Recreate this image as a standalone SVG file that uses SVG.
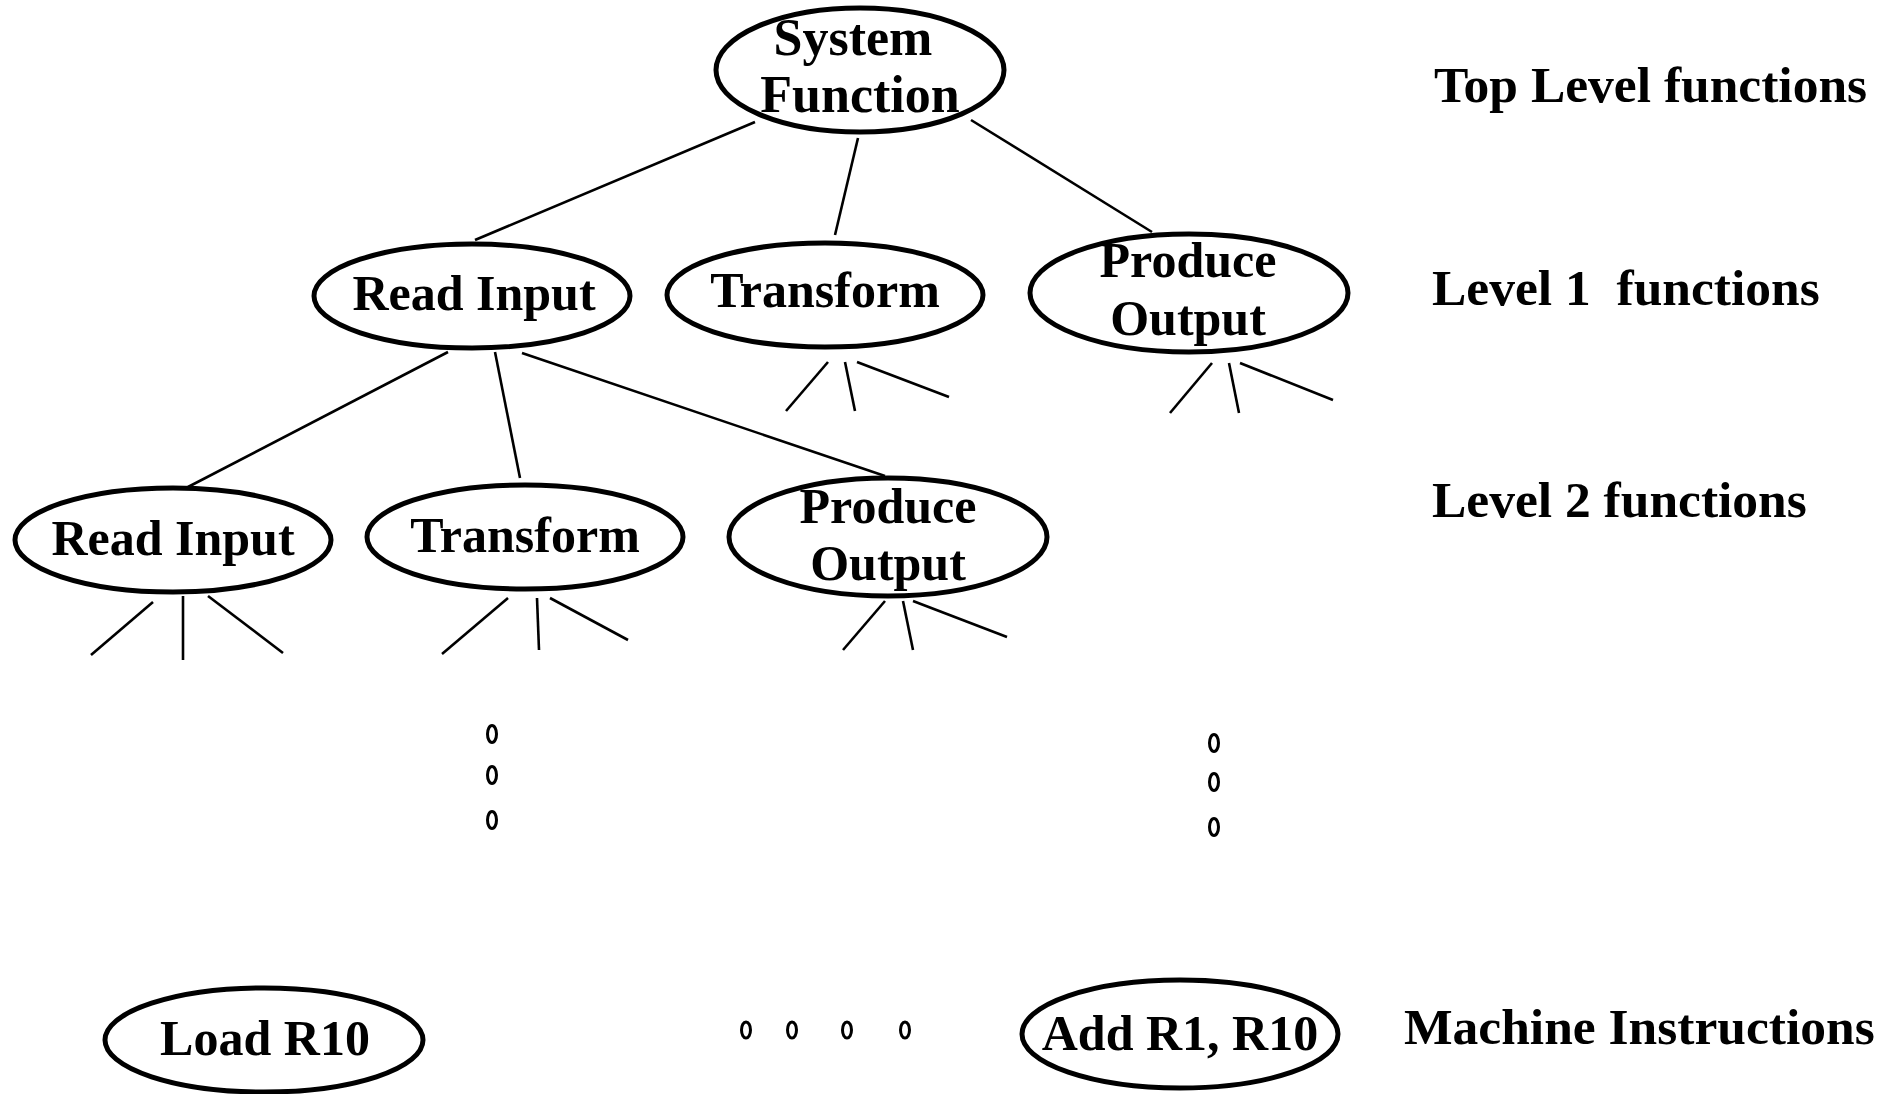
<svg xmlns="http://www.w3.org/2000/svg" width="1881" height="1094" viewBox="0 0 1881 1094">
<style>
.node{fill:#fff;stroke:#000;stroke-width:5}
.t{font-family:"Liberation Serif","Times New Roman",serif;font-weight:bold;font-size:50px;fill:#000;text-anchor:middle}
.lbl{font-family:"Liberation Serif","Times New Roman",serif;font-weight:bold;font-size:51.5px;fill:#000;white-space:pre}
.c line{stroke:#000;stroke-width:2.6;stroke-linecap:butt}
.dot{fill:none;stroke:#000;stroke-width:3}
</style>
<rect width="1881" height="1094" fill="#fff"/>
<g class="c" id="connectors">
<line x1="755" y1="122" x2="475" y2="240"/>
<line x1="858" y1="138" x2="835" y2="235"/>
<line x1="971" y1="120" x2="1152" y2="232"/>
<line x1="448" y1="352" x2="188" y2="487"/>
<line x1="495" y1="352" x2="520" y2="478"/>
<line x1="522" y1="353" x2="885" y2="476"/>
<line x1="828" y1="362" x2="786" y2="411"/>
<line x1="845" y1="362" x2="855" y2="411"/>
<line x1="857" y1="362" x2="949" y2="397"/>
<line x1="1212" y1="363" x2="1170" y2="413"/>
<line x1="1229" y1="363" x2="1239" y2="413"/>
<line x1="1240" y1="363" x2="1333" y2="400"/>
<line x1="153" y1="602" x2="91" y2="655"/>
<line x1="183" y1="596" x2="183" y2="660"/>
<line x1="208" y1="596" x2="283" y2="653"/>
<line x1="508" y1="598" x2="442" y2="654"/>
<line x1="537" y1="598" x2="539" y2="650"/>
<line x1="550" y1="598" x2="628" y2="640"/>
<line x1="885" y1="601" x2="843" y2="650"/>
<line x1="903" y1="601" x2="913" y2="650"/>
<line x1="913" y1="601" x2="1007" y2="637"/>
</g>
<g id="system-function">
<ellipse class="node" cx="860" cy="70" rx="144" ry="62"/>
<text class="t" x="853" y="55" style="font-size:52px">System</text>
<text class="t" x="860" y="112" style="font-size:52px">Function</text>
</g>
<g id="l1-read-input">
<ellipse class="node" cx="472" cy="296" rx="158" ry="52"/>
<text class="t" x="474" y="310">Read Input</text>
</g>
<g id="l1-transform">
<ellipse class="node" cx="825" cy="295" rx="158" ry="52"/>
<text class="t" x="825" y="307">Transform</text>
</g>
<g id="l1-produce-output">
<ellipse class="node" cx="1189" cy="293" rx="159" ry="59"/>
<text class="t" x="1188" y="277">Produce</text>
<text class="t" x="1188" y="335">Output</text>
</g>
<g id="l2-read-input">
<ellipse class="node" cx="173" cy="540" rx="158" ry="52"/>
<text class="t" x="173" y="555">Read Input</text>
</g>
<g id="l2-transform">
<ellipse class="node" cx="525" cy="537" rx="158" ry="52"/>
<text class="t" x="525" y="552">Transform</text>
</g>
<g id="l2-produce-output">
<ellipse class="node" cx="888" cy="537" rx="159" ry="59"/>
<text class="t" x="888" y="523">Produce</text>
<text class="t" x="888" y="580">Output</text>
</g>
<g id="load-r10">
<ellipse class="node" cx="264" cy="1040" rx="159" ry="52"/>
<text class="t" x="265" y="1055">Load R10</text>
</g>
<g id="add-r1-r10">
<ellipse class="node" cx="1180" cy="1034" rx="158" ry="54"/>
<text class="t" x="1180" y="1050">Add R1, R10</text>
</g>
<g id="ellipsis">
<ellipse class="dot" cx="492" cy="734" rx="4.5" ry="8.5"/>
<ellipse class="dot" cx="492" cy="775" rx="4.5" ry="8.5"/>
<ellipse class="dot" cx="492" cy="820" rx="4.5" ry="8.5"/>
<ellipse class="dot" cx="1214" cy="743" rx="4.5" ry="8.5"/>
<ellipse class="dot" cx="1214" cy="782" rx="4.5" ry="8.5"/>
<ellipse class="dot" cx="1214" cy="827" rx="4.5" ry="8.5"/>
<ellipse class="dot" cx="746" cy="1030" rx="4.5" ry="8"/>
<ellipse class="dot" cx="792" cy="1030" rx="4.5" ry="8"/>
<ellipse class="dot" cx="847" cy="1030" rx="4.5" ry="8"/>
<ellipse class="dot" cx="905" cy="1030" rx="4.5" ry="8"/>
</g>
<g id="level-labels">
<text class="lbl" x="1434" y="102">Top Level functions</text>
<text class="lbl" x="1432" y="305">Level 1  functions</text>
<text class="lbl" x="1432" y="517">Level 2 functions</text>
<text class="lbl" x="1404" y="1044">Machine Instructions</text>
</g>
</svg>
